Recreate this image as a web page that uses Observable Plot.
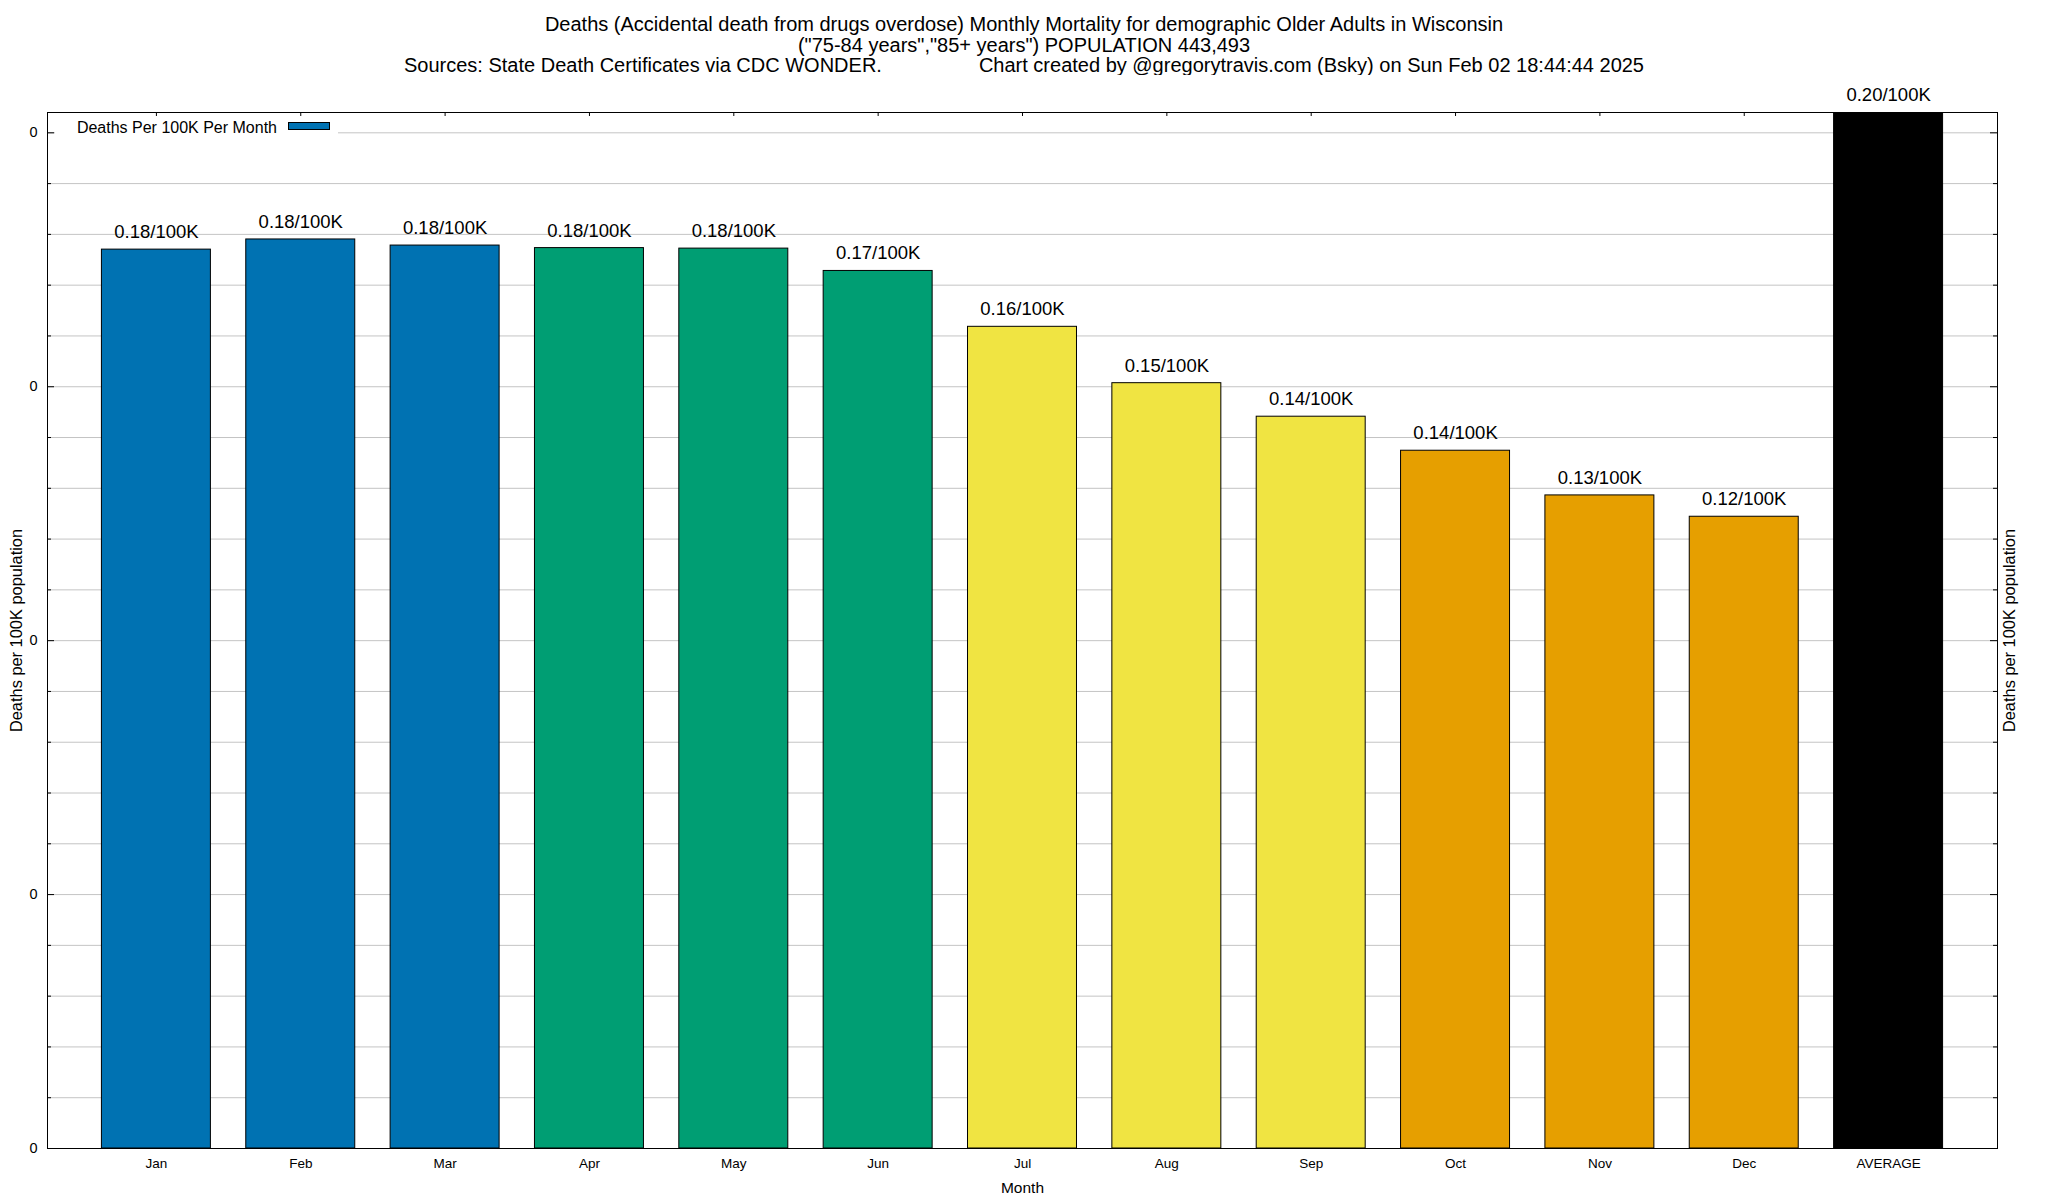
<!DOCTYPE html>
<html>
<head>
<meta charset="utf-8">
<script src="https://cdn.jsdelivr.net/npm/d3@7"></script>
<script src="https://cdn.jsdelivr.net/npm/@observablehq/plot@0.6"></script>
<style>
  body { margin: 0; background: #fff; font-family: "Liberation Sans", Arial, Helvetica, sans-serif; }
  #wrap { position: relative; width: 2048px; height: 1200px; overflow: hidden; background: #fff; }
  .t { position: absolute; left: 0; width: 2048px; text-align: center; font-size: 20px; line-height: 20px; white-space: pre; color: #000; }
  #chart { position: absolute; left: 0; top: 75px; }
  #legend { position: absolute; left: 55px; top: 118px; width: 283px; height: 22px; background: #fff; }
  #legend .lt { position: absolute; right: 61px; top: 0; line-height: 19px; font-size: 16px; color: #000; white-space: nowrap; }
  #legend .sw { position: absolute; left: 233px; top: 4px; width: 40px; height: 6px; border: 1px solid #000; }
</style>
</head>
<body>
<div id="wrap">
  <div class="t" style="top:14px">Deaths (Accidental death from drugs overdose) Monthly Mortality for demographic Older Adults in Wisconsin</div>
  <div class="t" style="top:35px">("75-84 years","85+ years") POPULATION 443,493</div>
  <div class="t" style="top:55px">Sources: State Death Certificates via CDC WONDER.<span style="display:inline-block;width:97px"></span>Chart created by @gregorytravis.com (Bsky) on Sun Feb 02 18:44:44 2025</div>
  <div id="chart"></div>
  <div id="legend"><span class="lt">Deaths Per 100K Per Month</span><span class="sw" id="sw"></span></div>
</div>
<script>
// ---- data ----
const months = ["Jan", "Feb", "Mar", "Apr", "May", "Jun", "Jul", "Aug", "Sep", "Oct", "Nov", "Dec", "AVERAGE"];
const values = [0.1770, 0.1790, 0.1778, 0.1773, 0.1772, 0.1728, 0.1618, 0.1507, 0.1441, 0.1374, 0.1286, 0.1244, 0.2040];
const colors = ["#0072b2", "#0072b2", "#0072b2", "#009e73", "#009e73", "#009e73",
                "#f0e442", "#f0e442", "#f0e442", "#e69f00", "#e69f00", "#e69f00", "#000000"];
const yMajor = [0, 0.05, 0.10, 0.15, 0.20];
const yTickLabels = ["0", "0", "0", "0", "0"];
const yGrid = [0.01, 0.02, 0.03, 0.04, 0.05, 0.06, 0.07, 0.08, 0.09, 0.10,
               0.11, 0.12, 0.13, 0.14, 0.15, 0.16, 0.17, 0.18, 0.19, 0.20];
const yMinor = yGrid.filter(v => !yMajor.includes(v));
const yTop = 0.204;
const xLabel = "Month";
const yLabel = "Deaths per 100K population";

const table = months.map((m, i) => ({
  month: m,
  value: values[i],
  color: colors[i],
  label: values[i].toFixed(2) + "/100K"
}));

document.getElementById("sw").style.background = colors[0];

// ---- layout ----
const W = 2048, H = 1125, mL = 47, mR = 51, mT = 37, mB = 52;
const fw = W - mL - mR, fh = H - mT - mB;
const font = "'Liberation Sans', Arial, Helvetica, sans-serif";

const chart = Plot.plot({
  width: W,
  height: H,
  marginLeft: mL,
  marginRight: mR,
  marginTop: mT,
  marginBottom: mB,
  style: { fontFamily: font, background: "white", overflow: "visible", color: "black" },
  x: { type: "band", domain: months, paddingInner: 0.245, paddingOuter: 0.377, align: 0.5, round: false, axis: null },
  y: { domain: [0, yTop], axis: null },
  color: { type: "identity" },
  marks: [
    Plot.ruleY(yGrid, { stroke: "#c4c4c4", strokeWidth: 1 }),
    Plot.barY(table, { x: "month", y: "value", fill: "color", stroke: "#000", strokeWidth: 1, clip: true }),
    Plot.text(table, {
      x: "month", y: d => Math.min(d.value, yTop), text: "label",
      dy: -17.5, fontSize: 18.5, lineAnchor: "middle", fill: "#000"
    }),
    // inward ticks left / right
    Plot.ruleY(yMajor, { stroke: "#000", insetRight: fw - 7 }),
    Plot.ruleY(yMinor, { stroke: "#000", insetRight: fw - 4 }),
    Plot.ruleY(yMajor, { stroke: "#000", insetLeft: fw - 7 }),
    Plot.ruleY(yMinor, { stroke: "#000", insetLeft: fw - 4 }),
    // top mirror ticks
    Plot.ruleX(months, { x: d => d, stroke: "#000", insetBottom: fh - 4 }),
    Plot.frame({ stroke: "#000", strokeWidth: 1 }),
    Plot.axisX({ tickSize: 0, tickPadding: 10, fontSize: 13.5, label: null }),
    Plot.axisY(yMajor, { tickSize: 0, tickPadding: 10, fontSize: 14.5, label: null,
      tickFormat: d => yTickLabels[yMajor.indexOf(d)] }),
    Plot.text([xLabel], { frameAnchor: "bottom", text: d => d, dy: 40, fontSize: 15.5, lineAnchor: "middle", fill: "#000" }),
    Plot.text([yLabel], { frameAnchor: "left", text: d => d, rotate: -90, dx: -30.5, fontSize: 16.4, textAnchor: "middle", lineAnchor: "middle", fill: "#000" }),
    Plot.text([yLabel], { frameAnchor: "right", text: d => d, rotate: -90, dx: 12.5, fontSize: 16.4, textAnchor: "middle", lineAnchor: "middle", fill: "#000" })
  ]
});
document.getElementById("chart").appendChild(chart);
</script>
</body>
</html>
